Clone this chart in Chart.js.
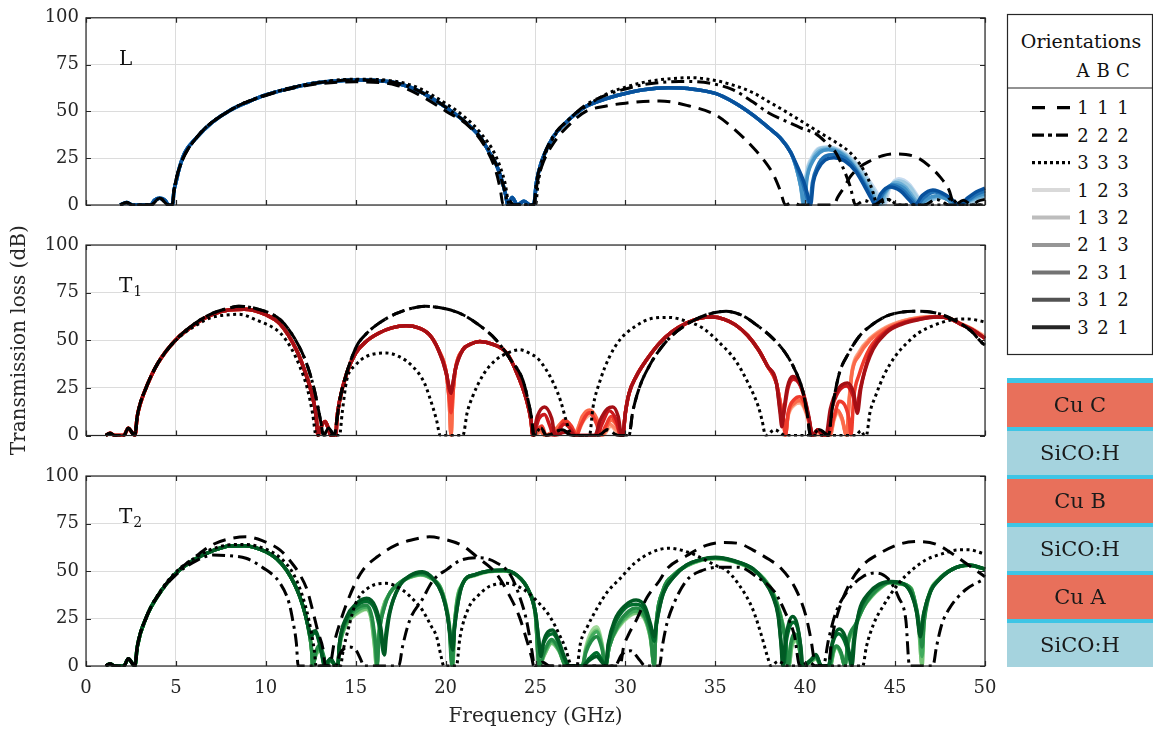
<!DOCTYPE html>
<html>
<head>
<meta charset="utf-8">
<title>Transmission loss versus frequency</title>
<script src="https://cdn.jsdelivr.net/npm/chart.js@4.4.1/dist/chart.umd.min.js"></script>
<style>
  body { margin: 0; background: #fff; }
  #wrap { position: relative; width: 1153px; height: 736px; overflow: hidden; font-family: 'DejaVu Serif', serif; color: #1a1a1a; }
  #wrap canvas { position: absolute; left: 0; top: 0; }
  #legend { position: absolute; left: 0; top: 0; }
  #stack { position: absolute; left: 1007px; top: 378px; width: 146px; height: 288.7px; background: #3ec5e5; }
  #stack div { position: absolute; left: 0; width: 146px; display: flex; align-items: center; justify-content: center; font-size: 21px; }
  .cu { background: #e8705b; }
  .lowk { background: #a5d3de; }
</style>
</head>
<body>
<div id="wrap">
  <canvas id="cL" width="1010" height="736"></canvas>
  <canvas id="cT1" width="1010" height="736"></canvas>
  <canvas id="cT2" width="1010" height="736"></canvas>
  <svg id="legend" width="1153" height="736"></svg>
  <div id="stack">
    <div class="cu" style="top:4.7px;height:44px">Cu C</div>
    <div class="lowk" style="top:53px;height:44px">SiCO:H</div>
    <div class="cu" style="top:101px;height:44px">Cu B</div>
    <div class="lowk" style="top:149px;height:44px">SiCO:H</div>
    <div class="cu" style="top:197px;height:44px">Cu A</div>
    <div class="lowk" style="top:245px;height:43.7px">SiCO:H</div>
  </div>
</div>
<script>
// ---------- orientation codes and styles ----------
const ORIENT_CODES = ['111', '222', '333', '123', '132', '213', '231', '312', '321'];
const DRAW_ORDER = ['111', '222', '333', '321', '312', '231', '213', '132', '123'];
const LEGEND_GRAYS = { '123': '#d9d9d9', '132': '#bdbdbd', '213': '#969696', '231': '#737373', '312': '#525252', '321': '#252525' };
const BLUES  = { '321': '#08519c', '312': '#2171b5', '231': '#4292c6', '213': '#6baed6', '132': '#9ecae1', '123': '#c6dbef' };
const REDS   = { '321': '#a50f15', '312': '#cb181d', '231': '#ef3b2c', '213': '#fb6a4a', '132': '#fc8a6a', '123': '#fcae91' };
const GREENS = { '321': '#005a24', '312': '#006d2c', '231': '#238b45', '213': '#41ab5d', '132': '#74c476', '123': '#a1d99b' };
const BLACK_DASH = { '111': [13, 8], '222': [13, 5, 3, 5], '333': [3, 3.5] };

// ---------- L polarisation: [frequency GHz, loss dB] ----------
const L_CORE = [[1.9,0],[2.25,1.3],[2.6,0],[3.6,0],[3.8,2.5],[4.1,3.6],[4.4,2.5],[4.6,0],[4.8,0],[4.9,8],[5.0,12],[5.2,20],[5.5,28],[6.15,36],[7,44],[8,50.5],[9,55],[10,58.8],[11,61.5],[12.6,64.9],[14,66.3],[15,66.8],[16,66.6],[17.26,65.2],[18.5,61],[20.04,52],[21,45],[21.9,36.5],[22.5,27],[22.8,22],[23.1,14],[23.35,5],[23.45,0],[23.7,4],[24.0,0],[24.35,2],[24.7,0],[24.9,0],[25.05,12],[25.3,22],[25.96,36],[26.8,45],[27.8,52.6],[29,57],[30,59.6],[31,61.6],[32.4,62.6],[33.5,62.2],[35,59.6],[36,55],[37.1,48],[38,41],[38.6,36],[39.2,28]];
const L_TAIL_321 = [[39.5,22],[39.9,13],[40.15,5],[40.3,0],[40.45,12],[40.7,19],[41.1,24],[41.6,25.3],[42.2,23.5],[42.8,18],[43.3,10],[43.7,3],[43.9,0],[44.2,6],[44.7,9.6],[45.3,7.5],[45.8,2.5],[46.1,0],[46.5,5],[47.1,8],[47.8,5.5],[48.4,1],[48.6,0],[49.0,3.5],[49.5,7],[50,9]];
const L_TAIL_312 = [[39.5,21],[39.85,12],[40.1,4],[40.25,0],[40.4,12],[40.7,21],[41.1,26],[41.6,27],[42.2,25],[42.8,19],[43.3,11],[43.7,4],[44.0,0],[44.3,6],[44.8,10.5],[45.4,8],[45.9,3],[46.2,0],[46.6,4],[47.2,7],[47.9,4.5],[48.4,1],[48.6,0],[49.1,3],[49.6,6],[50,7.5]];
const L_TAIL_231 = [[39.5,20],[39.75,10],[39.95,0],[40.1,14],[40.4,23],[40.8,28],[41.3,29.5],[41.9,28],[42.5,23],[43.1,15],[43.6,7],[44.0,0],[44.3,5],[44.9,11],[45.5,9],[46.0,3],[46.3,0],[46.8,3.5],[47.3,5],[47.9,3],[48.3,0],[49.0,2],[49.5,4.5],[50,6]];
const L_TAIL_213 = [[39.5,20],[39.75,10],[39.92,0],[40.08,14],[40.4,24],[40.8,29],[41.3,30],[41.9,28.5],[42.5,24],[43.1,16],[43.7,7],[44.15,0],[44.5,7],[45.0,12],[45.6,9.5],[46.1,3],[46.4,0],[46.9,3],[47.4,4.5],[48.0,2.5],[48.4,0],[49.1,2],[49.6,4],[50,5]];
const L_TAIL_132 = [[39.5,20],[39.75,10],[39.9,0],[40.05,15],[40.4,25],[40.8,30],[41.3,30.7],[41.9,29],[42.5,25],[43.2,17],[43.8,8],[44.3,0],[44.6,8],[45.2,13],[45.8,10],[46.3,3],[46.6,0],[47.1,3],[47.6,4],[48.1,2],[48.5,0],[49.2,1.5],[49.7,3],[50,4]];
const L_TAIL_123 = [[39.5,20],[39.75,10],[39.9,0],[40.05,16],[40.4,26],[40.8,30.5],[41.3,31],[41.9,29.5],[42.5,25.5],[43.2,18],[43.9,8],[44.4,0],[44.7,9],[45.2,14],[45.8,11],[46.3,4],[46.6,0],[47.1,3],[47.6,4],[48.1,2],[48.5,0],[49.2,1],[49.7,2.5],[50,3.5]];
const L_111 = [[1.9,0],[2.25,1.3],[2.6,0],[3.6,0],[4.1,3.6],[4.6,0],[4.8,0],[4.9,8],[5.2,20],[6.15,36],[8,50.5],[10,58.5],[12.6,64.3],[15,65.8],[17.26,64],[18.5,59],[20.04,50],[21.3,42],[22.2,31],[22.8,18],[23.05,8],[23.2,0],[23.5,2.5],[23.8,0],[24.9,0],[25.1,12],[25.4,22],[26,33],[27,44],[27.8,50],[29,53],[30,54.4],[31.9,55.6],[33.5,53],[35,48.2],[36,41],[37.1,30.7],[37.7,24],[38.2,16.8],[38.6,8],[38.9,0],[39.3,1.5],[39.7,0],[41.6,0],[41.8,4],[42.2,10],[42.5,15],[43,20],[43.6,23.5],[44.3,26.3],[45,27.3],[45.6,27],[46.3,25],[47,20],[47.5,15],[48,8],[48.3,0],[48.8,2.5],[49.3,0],[49.6,2],[50,3]];
const L_222 = [[1.9,0],[2.25,1.3],[2.6,0],[3.6,0],[4.1,3.6],[4.6,0],[4.8,0],[4.9,8],[5.2,20],[6.15,36],[8,50.5],[10,58.8],[12.6,64.9],[15,66.8],[17.26,65.2],[18.5,61],[20.04,52],[21.9,36.5],[22.8,22],[23.35,5],[23.45,0],[24.9,0],[25.05,12],[25.3,22],[26,37],[27,47],[27.8,53.5],[29,59],[30,62],[31,64.3],[32,65.5],[33,66],[34,65.8],[35,64.5],[36,61.5],[37.1,55],[38,49],[39,44.5],[39.8,41],[40.6,38],[41.2,33],[41.7,28],[42.1,20],[42.5,10],[42.8,0],[43.3,2.5],[43.8,0],[44.5,3.5],[45.1,0],[46.6,0],[47.3,3],[48,0],[50,0]];
const L_333 = [[1.9,0],[2.25,1.3],[2.6,0],[3.6,0],[4.1,3.6],[4.6,0],[4.8,0],[4.9,8],[5.2,20],[6.15,36],[8,50.5],[10,58.8],[12.6,65],[15,67.2],[17.26,66],[18.5,62.5],[20.04,54],[21,47.5],[21.9,39],[22.8,26],[23.3,12],[23.55,0],[25,0],[25.15,12],[25.4,23],[26,36],[27,47],[28,54],[29,59.5],[30,63],[31,65.5],[32,67],[33.7,68],[35,66.5],[36,64],[37.1,60],[38,55],[38.9,50],[40,43.5],[41.1,37],[41.7,33.5],[42.5,28],[43.1,21],[43.5,14],[43.8,6],[44.0,0],[44.6,3],[45.2,0],[47.6,0],[48.1,3.5],[48.6,0],[50,0]];

// ---------- T1 polarisation ----------
const T1_CORE = [[1.1,0],[1.33,1.2],[1.6,0],[2.1,0],[2.35,3.8],[2.6,1],[2.72,0],[2.85,10],[3.0,16],[3.37,25.7],[4,38],[5,50.3],[6.15,59],[7,63.5],[8,66],[8.8,66.3],[10,63.4],[10.8,58.5],[11.7,45],[12.2,33],[12.6,20.4],[12.8,10],[12.9,0],[13.05,4],[13.3,7.3],[13.5,3],[13.6,0],[13.9,0],[13.95,8],[14.1,18],[14.5,32.7],[15,43.3],[15.6,49.5],[16.3,53.8],[17,56.5],[17.8,57.6],[18.5,56.5],[19.1,52.9],[19.6,45],[20.04,32.7]];
const T1_DIP_DARK = [[20.2,25],[20.3,22.2],[20.4,27]];
const T1_DIP_MID = [[20.2,20],[20.3,12],[20.4,22]];
const T1_DIP_LIGHT = [[20.2,18],[20.3,0],[20.4,20]];
const T1_ARCH3 = [[20.55,35],[20.96,45],[21.4,48],[21.9,49.4],[22.6,48],[23.4,43.3],[24,32],[24.5,18.7],[24.75,8],[24.85,0]];
const T1_ARCH4 = [[29.85,0],[30.0,12],[30.2,22],[30.6,31],[31.2,40],[31.9,48.5],[32.6,54.5],[33.4,59],[34.1,61.5],[34.85,62.2],[35.5,61],[36.1,58.2],[36.8,52.5],[37.4,45],[37.9,36.5],[38.4,27.5]];
const T1_B321 = [[25.1,10],[25.5,15],[25.9,9],[26.1,0],[26.5,1.5],[26.9,2],[27.2,0],[28.3,0],[28.6,8],[29.0,14],[29.3,15],[29.6,10],[29.8,0]];
const T1_B312 = [[25.2,9],[25.5,11],[25.8,5],[26.0,0],[26.3,3],[26.6,6],[27.0,3],[27.2,0],[28.4,0],[28.7,6],[29.1,13],[29.5,8],[29.75,0]];
const T1_B231 = [[25.2,4],[25.35,5],[25.6,0],[26.1,0],[26.6,8],[27.0,5],[27.3,0],[27.5,5],[28.0,12],[28.4,6],[28.6,0],[28.9,5],[29.2,10],[29.5,6],[29.75,0]];
const T1_B213 = [[25.3,3],[25.5,0],[26.2,4],[26.6,8],[27.0,4],[27.2,0],[27.6,10],[28.0,13.4],[28.4,9],[28.7,0],[29.2,8],[29.6,4],[29.75,0]];
const T1_B132 = [[25.3,2],[25.5,0],[26.1,3],[26.5,7],[26.9,4],[27.1,0],[27.6,9],[28.0,12],[28.4,8],[28.7,0],[29.1,6],[29.5,3],[29.75,0]];
const T1_B123 = [[25.3,2],[25.5,0],[26.2,3],[26.6,6],[27.0,3],[27.2,0],[27.7,8],[28.1,11],[28.5,6],[28.75,0],[29.2,5],[29.5,2],[29.75,0]];
const T1_E321 = [[38.6,12],[38.7,4.6],[38.8,12],[39.0,25],[39.3,31],[39.6,29],[39.9,22],[40.2,10],[40.4,0],[40.7,3],[41.0,0],[41.15,0],[41.4,14],[41.8,24],[42.35,27.5],[42.7,22],[42.9,11.7],[43.1,25],[43.6,41.5],[44.5,53.8],[45.4,58.5],[46.3,60.8],[47.3,62.2],[48,61.5],[48.7,58.2],[49.3,55.5],[50,51]];
const T1_E312 = [[38.6,14],[38.72,7],[38.85,14],[39.05,25],[39.35,29.5],[39.65,27.5],[39.95,20],[40.2,9],[40.4,0],[40.7,3],[41.0,0],[41.2,0],[41.45,13],[41.85,23],[42.3,26],[42.65,21],[42.85,14],[43.05,24],[43.6,43],[44.5,54.5],[45.4,59],[46.3,61],[47.3,62.2],[48,61.5],[48.7,58.2],[49.3,55.5],[50,51]];
const T1_E231 = [[38.6,18],[38.8,8],[38.9,0],[39.05,12],[39.4,19],[39.7,20.4],[40.0,16],[40.25,7],[40.4,0],[40.7,3],[41.0,0],[41.3,0],[41.6,10],[41.9,18],[42.2,16],[42.45,8],[42.55,0],[42.7,20],[43.0,32],[43.6,46],[44.5,55],[45.4,59],[46.3,61.3],[47.3,62.3],[48,61.5],[48.7,58.2],[49.3,55.5],[50,51]];
const T1_E213 = [[38.6,18],[38.8,8],[38.9,0],[39.05,11],[39.4,17],[39.7,18.5],[40.0,14],[40.25,6],[40.4,0],[40.7,2.5],[41.0,0],[41.35,0],[41.6,9],[41.8,13.4],[42.05,9],[42.3,0],[42.45,18],[42.6,32.7],[43.0,42],[43.6,50],[44.5,56],[45.4,59.5],[46.3,61.5],[47.3,62.3],[48,61.5],[48.7,58.3],[49.3,55.5],[50,51]];
const T1_E132 = [[38.6,18],[38.8,8],[38.9,0],[39.05,11],[39.4,17],[39.7,18],[40.0,14],[40.25,6],[40.4,0],[40.7,2],[41.0,0],[41.4,0],[41.6,9],[41.8,13],[42.05,9],[42.3,0],[42.45,19],[42.6,33],[43.0,43],[43.6,50.5],[44.5,56.5],[45.4,60],[46.3,61.8],[47.3,62.4],[48,61.6],[48.7,58.5],[49.3,55.8],[50,51.5]];
const T1_E123 = [[38.6,18],[38.8,8],[38.9,0],[39.05,10],[39.4,16],[39.7,17],[40.0,13],[40.25,5],[40.4,0],[41.4,0],[41.6,8],[41.8,12],[42.05,8],[42.3,0],[42.45,20],[42.6,34],[43.0,44],[43.6,51],[44.5,57],[45.4,60.2],[46.3,62],[47.3,62.5],[48,61.7],[48.7,58.6],[49.3,56],[50,52]];
// orientations 1 1 1 and 2 2 2 give the same T1 response
const T1_111_222 = [[1.1,0],[1.33,1.2],[1.6,0],[2.1,0],[2.35,3.8],[2.72,0],[2.85,10],[3.37,25.7],[4,38],[5,50.3],[6.15,59.5],[7,64],[8,67],[8.5,67.8],[9.5,66.5],[10.8,60.8],[11.6,51],[12.26,38],[12.7,24],[12.9,15],[13.1,5],[13.2,0],[13.5,4],[13.8,0],[13.95,8],[14.1,18],[14.5,33],[15.04,46.7],[15.6,53.5],[16.3,59],[17.2,63.8],[18,66.5],[18.9,67.8],[20,66.5],[20.96,63.4],[22,57],[22.8,50.3],[23.6,40],[24.3,29],[24.6,18],[24.8,8],[24.9,0],[25.3,4],[25.6,0],[26.5,3],[27,0],[28.5,0],[29,3],[29.6,0],[30.2,0],[30.4,12],[30.8,25.7],[31.3,36],[31.9,45],[32.6,52.5],[33.4,58.2],[34.4,63],[35.6,65.2],[36.5,63],[37.4,57.3],[38.2,51],[38.9,43.3],[39.4,35],[39.85,24],[40.1,12],[40.3,0],[40.8,3],[41.3,0],[41.5,14],[41.9,32.7],[42.4,43],[43.0,52],[43.7,58],[44.5,62.6],[45.2,64.5],[46.0,65.2],[47.3,64.3],[48.3,60.5],[49.2,55],[49.85,48.5],[50,47.5]];
const T1_333 = [[1.1,0],[1.33,1.2],[1.6,0],[2.1,0],[2.35,3.8],[2.72,0],[2.85,10],[3.37,25.7],[4,38],[5,50],[6.15,58],[7,62],[8,63.4],[8.5,63.6],[9.5,60.5],[10.8,53.8],[11.4,46],[11.9,36],[12.3,25],[12.6,11.7],[12.8,0],[14.1,0],[14.25,12],[14.5,29],[15,37],[15.6,41.5],[16.7,43.3],[17.4,41.5],[18.2,36],[18.8,28],[19.1,20.4],[19.5,8],[19.7,0],[20.96,0],[21.2,12],[21.5,20.4],[22.1,32],[22.8,39.7],[23.5,43.5],[24.1,45],[24.7,43],[25.2,39.7],[26,27.5],[26.4,18],[26.7,8],[26.9,2],[27.1,0],[28.0,0],[28.2,15],[28.6,29],[29.1,41],[29.7,50.3],[30.5,57],[31.5,61.5],[32.4,62],[33.4,60],[34.3,56.4],[35.2,49],[36.1,39.7],[36.8,28],[37.4,15],[37.6,8],[37.8,0],[38.3,3],[38.9,0],[42.8,0],[43.1,2.5],[43.3,0],[43.4,0],[43.6,12],[43.9,20.4],[44.4,32],[45.0,41.5],[45.6,48],[46.3,53.8],[47.2,58],[48.2,60.8],[49.0,61.2],[49.85,59.9],[50,59.5]];

// ---------- T2 polarisation ----------
const T2_CORE = [[1.1,0],[1.33,1.2],[1.6,0],[2.1,0],[2.35,3.8],[2.72,0],[2.85,10],[3.37,26],[4,37],[5,48.8],[6.15,56.7],[7,60.5],[8,63.2],[8.8,63.3],[10,60.2],[10.6,56.5],[11.15,50.5],[11.6,43],[11.9,36.3],[12.2,27]];
const T2_TAIL_321 = [[12.4,19],[12.5,14.5],[12.6,17.5],[12.75,18.5],[12.95,14],[13.15,5],[13.25,0],[13.6,4],[13.9,0],[14.0,0],[14.1,12],[14.5,26],[15.0,32.5],[15.6,35.6],[16.1,31],[16.4,20],[16.55,8],[16.6,5.8],[16.7,15],[16.9,28],[17.4,41.7],[18,47.5],[18.7,49.6],[19.3,46],[19.8,38],[20.1,27],[20.3,12],[20.4,8.4],[20.5,20],[20.96,43.5],[21.6,48],[22.4,50],[23.2,50.5],[24.0,47.5],[24.6,40],[25.0,28],[25.2,12],[25.3,5],[25.45,13],[25.95,19],[26.3,13],[26.6,5],[26.9,0],[27.6,0],[28.0,3],[28.4,5],[28.7,2],[28.9,0],[29.05,12],[29.4,24],[30,32],[30.6,34.7],[31.1,31],[31.4,22],[31.6,15.4],[31.75,24],[32.1,38],[32.7,47],[33.4,53.2],[34.2,56],[35,57.2],[36,55.5],[37.1,51.2],[37.7,45],[38.2,36.5],[38.5,26],[38.65,12],[38.75,0],[38.9,14],[39.1,23],[39.3,26],[39.55,22],[39.75,10],[39.85,0],[40.3,3],[40.6,6],[40.9,0],[41.3,0],[41.5,12],[41.9,19.5],[42.2,16],[42.5,5],[42.6,0],[42.75,14],[43.0,29],[43.5,38],[44.1,43],[44.8,44.5],[45.5,43],[45.9,38],[46.2,28],[46.4,15.4],[46.6,28],[47.0,40],[47.4,45],[48.2,51],[49.1,53.2],[49.85,51.5],[50,51]];
const T2_TAIL_312 = [[12.4,19],[12.5,15],[12.62,17],[12.78,17.5],[12.95,13],[13.15,4],[13.25,0],[13.6,3.5],[13.9,0],[14.0,0],[14.1,12],[14.5,25],[15.0,31.5],[15.6,34],[16.05,30],[16.35,19],[16.5,9],[16.55,6.5],[16.65,15],[16.85,27],[17.4,41.5],[18,47.2],[18.7,49.2],[19.3,46],[19.8,38],[20.1,27],[20.3,14],[20.4,11],[20.5,21],[20.96,43.5],[21.6,48],[22.4,50],[23.2,50.4],[24.0,47.5],[24.6,40],[25.0,28],[25.2,12],[25.3,6],[25.45,12],[25.95,17],[26.3,12],[26.6,4],[26.85,0],[27.6,0],[28.0,4],[28.4,7],[28.7,3],[28.9,0],[29.05,11],[29.4,22],[30,30.5],[30.6,32.5],[31.1,29],[31.4,20],[31.6,13],[31.75,23],[32.1,38],[32.7,47],[33.4,53],[34.2,56],[35,57],[36,55.4],[37.1,51],[37.7,45],[38.2,37],[38.5,27],[38.65,13],[38.8,0],[38.95,13],[39.15,21],[39.35,23],[39.6,19],[39.78,8],[39.85,0],[40.3,3],[40.6,5.5],[40.9,0],[41.3,0],[41.5,11],[41.85,17],[42.15,14],[42.45,5],[42.55,0],[42.7,14],[43.0,28],[43.5,37.5],[44.1,42.5],[44.8,44.3],[45.5,43],[45.9,38],[46.2,29],[46.4,17],[46.6,28],[47.0,40],[47.4,45],[48.2,51],[49.1,53.1],[49.85,51.5],[50,51]];
const T2_TAIL_231 = [[12.4,18],[12.55,8],[12.6,0],[12.8,8],[13.0,11],[13.2,6],[13.35,0],[13.6,3],[13.9,0],[14.0,0],[14.1,11],[14.5,24],[15.0,30],[15.6,32],[15.9,26],[16.1,12],[16.2,0],[16.3,16],[16.6,31],[16.9,38.5],[17.4,43.5],[18,47],[18.6,48.5],[19.2,46.5],[19.7,41],[20.0,32],[20.2,20],[20.35,0],[20.5,22],[20.96,43.5],[21.6,48],[22.4,50],[23.2,50.3],[24.0,47.5],[24.6,40],[25.0,27],[25.2,0],[25.5,8],[25.9,14],[26.3,9],[26.7,0],[27.6,0],[27.8,7],[28.1,13],[28.4,15.4],[28.7,9],[28.9,0],[29.1,10],[29.6,22],[30.2,29],[30.6,30.5],[31.1,26],[31.4,16],[31.6,0],[31.7,20],[32.1,40],[32.7,48],[33.4,53],[34.2,56],[35,57],[36,55.3],[37.1,51],[37.7,45.5],[38.2,38],[38.6,27],[38.9,13],[39.05,0],[39.2,12],[39.4,17],[39.6,14],[39.85,0],[40.3,3],[40.6,5],[40.9,0],[41.35,0],[41.55,8],[41.75,10.5],[42.0,7],[42.2,0],[42.4,14],[42.8,22],[43.3,32],[43.7,37.5],[44.2,42],[44.7,44],[45.3,43.5],[45.9,40],[46.2,30],[46.4,18],[46.5,10],[46.6,22],[46.9,37],[47.4,45],[48.2,51],[49.1,53],[49.85,51.4],[50,51]];
const T2_TAIL_213 = [[12.4,18],[12.55,8],[12.6,0],[12.8,7],[13.0,9.5],[13.2,5.5],[13.35,0],[13.6,3],[13.9,0],[14.0,0],[14.1,10],[14.5,23],[15.0,28.5],[15.6,31],[15.88,26],[16.08,11],[16.18,0],[16.28,15],[16.55,30],[16.9,38.4],[17.4,43.5],[18,46.8],[18.6,48.2],[19.2,46.2],[19.7,41.5],[20.0,32.5],[20.2,21],[20.38,0],[20.5,22],[20.96,43.5],[21.6,47.8],[22.4,49.8],[23.2,50.1],[24.0,47.5],[24.6,40],[25.0,26.5],[25.2,0],[25.5,7],[25.9,13],[26.3,8.5],[26.7,0],[27.6,0],[27.8,8],[28.1,15],[28.4,18],[28.7,10],[28.9,0],[29.1,10],[29.6,21],[30.2,27.5],[30.6,29],[31.1,25],[31.4,15],[31.6,0],[31.7,20],[32.1,40],[32.7,48],[33.4,52.8],[34.2,55.8],[35,56.8],[36,55.2],[37.1,50.8],[37.7,45.8],[38.2,38.5],[38.6,27.5],[38.9,14],[39.08,0],[39.22,11],[39.42,15],[39.62,12],[39.85,0],[40.3,2.5],[40.6,4.5],[40.9,0],[41.38,0],[41.58,8],[41.75,10.2],[42.0,6.5],[42.2,0],[42.4,13],[42.8,21.5],[43.25,31],[43.7,37],[44.2,41.5],[44.7,44],[45.3,43.2],[45.9,40.5],[46.15,32],[46.35,20],[46.5,5],[46.6,22],[46.9,37.5],[47.4,45.2],[48.2,51],[49.1,53],[49.85,51.4],[50,51]];
const T2_TAIL_132 = [[12.4,18],[12.55,8],[12.6,0],[12.8,6],[13.0,8],[13.2,5],[13.35,0],[13.6,3],[13.9,0],[14.0,0],[14.1,10],[14.5,22],[15.0,27.5],[15.6,30],[15.85,25.5],[16.05,10],[16.15,0],[16.25,15],[16.5,30],[16.9,38.3],[17.4,43.5],[18,46.6],[18.6,48],[19.2,46.1],[19.7,41.7],[20.0,33],[20.2,22.5],[20.4,0],[20.5,22],[20.96,43.5],[21.6,47.6],[22.4,49.7],[23.2,50],[24.0,47.5],[24.6,40],[25.0,26],[25.2,0],[25.5,6],[25.9,12],[26.3,8],[26.7,0],[27.6,0],[27.8,9],[28.1,16],[28.4,19],[28.7,11],[28.9,0],[29.1,10],[29.6,20.5],[30.2,26.5],[30.6,28],[31.1,24.5],[31.4,14],[31.6,0],[31.7,20],[32.1,40],[32.7,48],[33.4,52.6],[34.2,55.6],[35,56.6],[36,55.1],[37.1,50.6],[37.7,46],[38.2,39],[38.6,28],[38.9,15],[39.1,0],[39.25,10],[39.45,14],[39.65,11],[39.85,0],[40.3,2],[40.6,4],[40.9,0],[41.4,0],[41.6,8],[41.75,10],[42.0,6],[42.2,0],[42.4,12.5],[42.8,21],[43.2,30.5],[43.7,36.8],[44.2,41.2],[44.7,44],[45.3,43.1],[45.9,40.8],[46.1,33],[46.3,22],[46.5,0],[46.6,22],[46.9,38],[47.4,45.4],[48.2,51],[49.1,53],[49.85,51.4],[50,51]];
const T2_TAIL_123 = [[12.4,18],[12.55,8],[12.6,0],[12.8,6],[13.0,8],[13.2,5],[13.35,0],[13.6,3],[13.9,0],[14.0,0],[14.1,10],[14.5,22],[15.0,27],[15.6,29.8],[15.85,25],[16.05,10],[16.15,0],[16.25,15],[16.5,30],[16.9,38.3],[17.4,43.5],[18,46.5],[18.6,47.9],[19.2,46],[19.7,41.7],[20.0,33],[20.2,22.5],[20.4,0],[20.5,22],[20.96,43.5],[21.6,47.5],[22.4,49.6],[23.2,50],[24.0,47.5],[24.6,40],[25.0,26],[25.2,0],[25.5,6],[25.9,12.3],[26.3,8],[26.7,0],[27.6,0],[27.8,10],[28.1,18],[28.4,20.7],[28.7,12],[28.9,0],[29.1,10],[29.6,20],[30.2,26],[30.6,27.7],[31.1,24],[31.4,14],[31.6,0],[31.7,20],[32.1,40],[32.7,48],[33.4,52.5],[34.2,55.5],[35,56.5],[36,55],[37.1,50.5],[37.7,46],[38.2,39],[38.6,28],[38.9,15],[39.1,0],[39.25,10],[39.45,13],[39.65,10],[39.85,0],[40.3,2],[40.6,4],[40.9,0],[41.4,0],[41.6,8],[41.75,10],[42.0,6],[42.2,0],[42.4,12],[42.8,20.7],[43.2,30],[43.7,36.5],[44.2,41],[44.7,44],[45.3,43],[45.9,41],[46.1,33],[46.3,22.5],[46.5,0],[46.6,22],[46.9,38],[47.4,45.5],[48.2,51],[49.1,53],[49.85,51.4],[50,51]];
const T2_111 = [[1.1,0],[1.33,1.2],[1.6,0],[2.1,0],[2.35,3.8],[2.72,0],[2.85,10],[3.37,26],[4,37],[5,49],[6.15,58],[7.07,64],[8,67],[8.9,68],[9.8,66],[10.8,61],[11.3,56],[11.9,48],[12.3,40],[12.6,29.5],[12.9,18],[13.2,8],[13.3,0],[13.55,0],[13.8,12],[14.1,22],[14.5,33],[15.0,44],[15.4,50.5],[16.2,57.5],[17.26,63.7],[18.4,67],[19.1,68],[19.8,67],[20.96,63.2],[21.8,57],[22.8,48.8],[23.5,38],[24.1,26],[24.5,14],[24.8,4],[24.9,0],[29.7,0],[29.9,10],[30.2,17],[30.6,24],[31.2,36],[31.9,45],[32.3,51],[33.4,58],[34.5,63.5],[35.5,65],[36.3,64.5],[37.1,61],[38,56],[38.6,52],[39.5,40],[40.05,26],[40.3,15],[40.6,0],[41.3,0],[41.45,12],[41.7,24],[42.4,42],[43.2,53],[44.1,59],[45.2,64],[46.3,65.5],[47.3,64],[48.2,59],[49.1,53],[50,47]];
const T2_222 = [[1.1,0],[1.33,1.2],[1.6,0],[2.1,0],[2.35,3.8],[2.72,0],[2.85,10],[3.37,26],[4,37],[5,48],[6.15,55.5],[7.07,58.4],[8,58],[8.9,56.7],[9.8,52],[10.8,43.5],[11.3,33],[11.5,24],[11.7,12],[11.8,0],[13.9,0],[14.1,6],[14.6,10],[15.0,8.5],[15.3,3],[15.45,0],[17.4,0],[17.6,10],[18.0,24],[18.7,35],[19.3,45],[20.1,51],[20.8,55.5],[21.9,57],[22.8,54.5],[23.6,48],[24.1,37],[24.5,24],[24.8,8],[24.95,0],[25.4,2],[25.8,0],[29.4,0],[29.8,6],[30.3,8],[30.8,3],[31.1,0],[31.9,0],[32.05,10],[32.3,22],[32.7,33],[33.4,45],[34.2,50],[35.2,52],[36.3,52],[37.3,47],[38.3,39],[38.9,28],[39.4,16],[39.7,0],[40.2,2],[40.6,0],[41.0,0],[41.3,14],[41.7,28],[42.4,40],[43.2,47],[43.9,49],[44.6,46],[45.2,36],[45.6,24],[45.8,0],[47.1,0],[47.3,10],[47.6,22],[48.0,30],[48.9,40],[49.8,45],[50,46]];
const T2_333 = [[1.1,0],[1.33,1.2],[1.6,0],[2.1,0],[2.35,3.8],[2.72,0],[2.85,10],[3.37,26],[4,37.5],[5,49.5],[6.15,57.5],[7,61.5],[8,63.8],[8.8,64],[10,61.5],[10.8,57],[11.5,49],[12.0,38],[12.4,24],[12.7,8],[12.8,0],[14.15,0],[14.3,8],[14.6,20],[15,33],[15.8,41.7],[16.7,43.5],[17.6,40],[18.2,35],[18.7,29.5],[19.2,21],[19.5,15.4],[19.75,5],[19.9,0],[20.6,0],[20.8,15],[21.3,31],[21.8,37],[22.4,41.7],[23.4,43.5],[24.3,40.5],[25.1,34],[25.8,26],[26.3,17],[26.7,8.4],[26.9,2],[27.05,0],[27.3,0],[27.5,12],[27.9,21],[28.4,30],[29.0,39],[29.7,46],[30.5,54],[31.5,60],[32.4,62],[33.6,59.5],[34.4,56],[35,53],[35.6,50.5],[36.3,43],[37.1,29.5],[37.6,15],[37.9,5],[38.1,0],[38.5,2.5],[39.0,0],[43.2,0],[43.4,10],[43.8,22],[44.3,31],[45.2,43.5],[46,51],[46.7,55.8],[47.6,59],[48.4,61],[49.1,61.2],[49.8,59.5],[50,59]];

// ---------- panels ----------
const PANELS = [
  { canvas: 'cL', name: 'L', sub: '', palette: BLUES, top: 15, bottom: 205, xAxis: false, yTitle: false,
    lines: { '111': L_111, '222': L_222, '333': L_333,
      '321': [...L_CORE, ...L_TAIL_321], '312': [...L_CORE, ...L_TAIL_312], '231': [...L_CORE, ...L_TAIL_231],
      '213': [...L_CORE, ...L_TAIL_213], '132': [...L_CORE, ...L_TAIL_132], '123': [...L_CORE, ...L_TAIL_123] } },
  { canvas: 'cT1', name: 'T', sub: '1', palette: REDS, top: 245, bottom: 435.5, xAxis: false, yTitle: true,
    lines: { '111': T1_111_222, '222': T1_111_222, '333': T1_333,
      '321': [...T1_CORE, ...T1_DIP_DARK, ...T1_ARCH3, ...T1_B321, ...T1_ARCH4, ...T1_E321],
      '312': [...T1_CORE, ...T1_DIP_DARK, ...T1_ARCH3, ...T1_B312, ...T1_ARCH4, ...T1_E312],
      '231': [...T1_CORE, ...T1_DIP_MID, ...T1_ARCH3, ...T1_B231, ...T1_ARCH4, ...T1_E231],
      '213': [...T1_CORE, ...T1_DIP_LIGHT, ...T1_ARCH3, ...T1_B213, ...T1_ARCH4, ...T1_E213],
      '132': [...T1_CORE, ...T1_DIP_LIGHT, ...T1_ARCH3, ...T1_B132, ...T1_ARCH4, ...T1_E132],
      '123': [...T1_CORE, ...T1_DIP_LIGHT, ...T1_ARCH3, ...T1_B123, ...T1_ARCH4, ...T1_E123] } },
  { canvas: 'cT2', name: 'T', sub: '2', palette: GREENS, top: 476, bottom: 666, xAxis: true, yTitle: false,
    lines: { '111': T2_111, '222': T2_222, '333': T2_333,
      '321': [...T2_CORE, ...T2_TAIL_321], '312': [...T2_CORE, ...T2_TAIL_312], '231': [...T2_CORE, ...T2_TAIL_231],
      '213': [...T2_CORE, ...T2_TAIL_213], '132': [...T2_CORE, ...T2_TAIL_132], '123': [...T2_CORE, ...T2_TAIL_123] } }
];

const FONT = "'DejaVu Serif', serif";
const INK = '#262626';
const GRID = '#dcdcdc';
Chart.defaults.font.family = FONT;
Chart.defaults.font.size = 18;
Chart.defaults.color = INK;

// axes box with inward tick marks on all four sides, plus the panel name
const boxPlugin = {
  id: 'axesBox',
  afterDatasetsDraw(chart, args, opts) {
    const { ctx, chartArea: a, scales: { x, y } } = chart;
    ctx.save();
    ctx.strokeStyle = INK;
    ctx.lineWidth = 1.2;
    ctx.setLineDash([]);
    ctx.strokeRect(a.left, a.top, a.right - a.left, a.bottom - a.top);
    ctx.beginPath();
    const len = 5;
    x.ticks.forEach(t => {
      const px = Math.round(x.getPixelForValue(t.value)) + 0.5;
      ctx.moveTo(px, a.bottom); ctx.lineTo(px, a.bottom - len);
      ctx.moveTo(px, a.top); ctx.lineTo(px, a.top + len);
    });
    y.ticks.forEach(t => {
      const py = Math.round(y.getPixelForValue(t.value)) + 0.5;
      ctx.moveTo(a.left, py); ctx.lineTo(a.left + len, py);
      ctx.moveTo(a.right, py); ctx.lineTo(a.right - len, py);
    });
    ctx.stroke();
    ctx.fillStyle = '#111';
    ctx.textBaseline = 'alphabetic';
    ctx.font = '20px ' + FONT;
    const lx = a.left + 33, ly = a.top + 47;
    ctx.fillText(opts.name, lx, ly);
    if (opts.sub) {
      const w = ctx.measureText(opts.name).width;
      ctx.font = '14px ' + FONT;
      ctx.fillText(opts.sub, lx + w + 1, ly + 4);
    }
    ctx.restore();
  }
};

const CANVAS_H = 736, AXIS_W = 86, RIGHT_PAD = 25, XAXIS_H = 70;

PANELS.forEach(p => {
  const datasets = DRAW_ORDER.map(code => {
    const black = code in BLACK_DASH;
    return {
      label: code,
      data: p.lines[code].map(([f, db]) => ({ x: f, y: db })),
      borderColor: black ? '#000' : p.palette[code],
      borderWidth: black ? 3 : 3.5,
      borderDash: black ? BLACK_DASH[code] : [],
      borderCapStyle: 'butt',
      borderJoinStyle: 'round',
      pointRadius: 0,
      fill: false,
      cubicInterpolationMode: 'monotone',
      clip: 1
    };
  });
  new Chart(document.getElementById(p.canvas), {
    type: 'line',
    data: { datasets },
    plugins: [boxPlugin],
    options: {
      responsive: false,
      animation: false,
      devicePixelRatio: 1,
      events: [],
      layout: { padding: { left: 0, right: RIGHT_PAD, top: p.top, bottom: p.xAxis ? 0 : CANVAS_H - p.bottom } },
      plugins: {
        legend: { display: false },
        tooltip: { enabled: false },
        axesBox: { name: p.name, sub: p.sub }
      },
      scales: {
        x: {
          type: 'linear', min: 0, max: 50,
          ticks: { stepSize: 5, display: p.xAxis, padding: 12, maxRotation: 0 },
          grid: { color: GRID, lineWidth: 1, drawTicks: false },
          border: { display: false },
          title: { display: p.xAxis, text: 'Frequency (GHz)', font: { size: 20 }, padding: { top: 0, bottom: 7 } },
          afterFit: s => { s.height = p.xAxis ? XAXIS_H : 0; }
        },
        y: {
          type: 'linear', min: 0, max: 100,
          ticks: { stepSize: 25, padding: 7 },
          grid: { color: GRID, lineWidth: 1, drawTicks: false },
          border: { display: false },
          title: { display: p.yTitle, text: 'Transmission loss (dB)', font: { size: 20 }, padding: { top: 8, bottom: 0 } },
          afterFit: s => { s.width = AXIS_W; }
        }
      }
    }
  });
});

// ---------- orientation key ----------
const svg = document.getElementById('legend');
const NS = 'http://www.w3.org/2000/svg';
function add(tag, attrs, text) {
  const n = document.createElementNS(NS, tag);
  Object.entries(attrs).forEach(([k, v]) => n.setAttribute(k, v));
  if (text !== undefined) n.textContent = text;
  svg.appendChild(n);
  return n;
}
const KEY = { left: 1007.5, top: 14.5, width: 145, height: 340, divider: 88, rowTop: 107.7, rowStep: 27.45,
              lineFrom: 1032, lineTo: 1070, cols: [1083, 1103, 1123] };
add('rect', { x: KEY.left, y: KEY.top, width: KEY.width, height: KEY.height, fill: '#fff', stroke: INK, 'stroke-width': 1.2 });
add('line', { x1: KEY.left, y1: KEY.divider, x2: KEY.left + KEY.width, y2: KEY.divider, stroke: INK, 'stroke-width': 1.2 });
const txt = { 'font-family': FONT, 'font-size': 18, fill: '#111', 'text-anchor': 'middle' };
add('text', { ...txt, x: 1081, y: 48, 'font-size': 19 }, 'Orientations');
['A', 'B', 'C'].forEach((c, i) => add('text', { ...txt, x: KEY.cols[i], y: 77 }, c));
const KEY_DASH = { '111': '13 12', '222': '12 4 4 4', '333': '3 3' };
ORIENT_CODES.forEach((code, i) => {
  const cy = KEY.rowTop + i * KEY.rowStep;
  const black = code in KEY_DASH;
  add('line', { x1: KEY.lineFrom, y1: cy, x2: KEY.lineTo, y2: cy,
    stroke: black ? '#000' : LEGEND_GRAYS[code], 'stroke-width': black ? 3.2 : 4,
    'stroke-dasharray': black ? KEY_DASH[code] : 'none' });
  code.split('').forEach((d, j) => add('text', { ...txt, x: KEY.cols[j], y: cy + 6.5 }, d));
});
</script>
</body>
</html>
